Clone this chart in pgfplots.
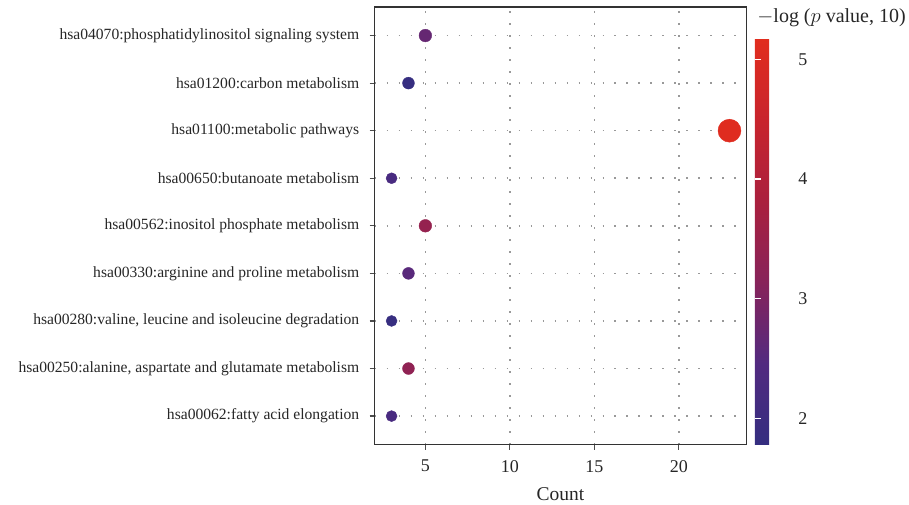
\documentclass[border=0pt]{standalone}
\usepackage{pgfplots}
\pgfplotsset{compat=1.18}
\usepackage{pgfplotstable}
\usepackage{fontspec}
\setmainfont{Liberation Serif}
\pgfplotstableread{
x y p
5 9 2.70
4 8 1.82
23 7 5.10
3 6 2.25
5 5 3.40
4 4 2.55
3 3 1.85
4 2 3.30
3 1 2.25
}\datatable
\begin{document}
\begin{tikzpicture}
\begin{axis}[
  scale only axis, width=372bp, height=438bp,
  xmin=2, xmax=24, ymin=0.4, ymax=9.6,
  xtick={5,10,15,20},
  ytick={1,...,9},
  yticklabels={hsa00062:fatty acid elongation,
    {hsa00250:alanine, aspartate and glutamate metabolism},
    {hsa00280:valine, leucine and isoleucine degradation},
    hsa00330:arginine and proline metabolism,
    hsa00562:inositol phosphate metabolism,
    hsa00650:butanoate metabolism,
    hsa01100:metabolic pathways,
    hsa01200:carbon metabolism,
    hsa04070:phosphatidylinositol signaling system},
  /pgf/number format/assume math mode=true,
  yticklabel style={font=\fontsize{15.6bp}{17bp}\selectfont, text=black!85, xshift=-7bp},
  xticklabel style={font=\fontsize{18bp}{20bp}\selectfont, text=black!85, yshift=-7bp},
  xlabel={Count},
  xlabel style={font=\fontsize{19.5bp}{21bp}\selectfont, text=black!85, yshift=-8bp},
  tick align=outside, tick pos=left,
  major tick length=5bp,
  tick style={black!70, line width=1.2bp},
  axis line style={black!80, line width=1.1bp},
  grid=major,
  major grid style={black!40, line width=1.5bp, dash pattern=on 1.5bp off 10.5bp},
  colormap={kr}{rgb255(0cm)=(52,46,128); rgb255(1cm)=(82,42,128); rgb255(2cm)=(135,35,90); rgb255(3cm)=(170,32,62); rgb255(4cm)=(200,36,45); rgb255(5cm)=(225,45,30)},
  point meta min=1.78, point meta max=5.17,
  colorbar right,
  colorbar style={
    at={([xshift=8bp,yshift=2bp]parent axis.south east)}, anchor=south west,
    scale only axis, width=32bp, height=406bp,
    ytick={2,3,4,5},
    /pgf/number format/assume math mode=true,
    yticklabel style={font=\fontsize{18bp}{20bp}\selectfont, text=black!85, xshift=8bp},
    tick align=inside, major tick length=6bp,
    tick style={white, line width=1.2bp},
    axis line style={draw=none},
    ytick pos=both, yticklabel pos=right,
    title={$-$log ($p$ value, 10)},
    title style={font=\fontsize{20bp}{22bp}\selectfont, text=black!85, anchor=south west, at={(0,1)}, xshift=-1bp, yshift=3bp},
  },
]
\addplot[scatter, only marks, mark=*, scatter src=explicit,
  scatter/use mapped color={draw=mapped color, fill=mapped color},
  visualization depends on={sqrt(15+5.09*\thisrow{x}) \as \rad},
  scatter/@pre marker code/.append style={/tikz/mark size=\rad bp}]
  table[x=x, y=y, meta=p] {\datatable};
\end{axis}
\path (current axis.south west) ++(-375bp,-60bp) rectangle ++(909bp,505bp);
\end{tikzpicture}
\end{document}
